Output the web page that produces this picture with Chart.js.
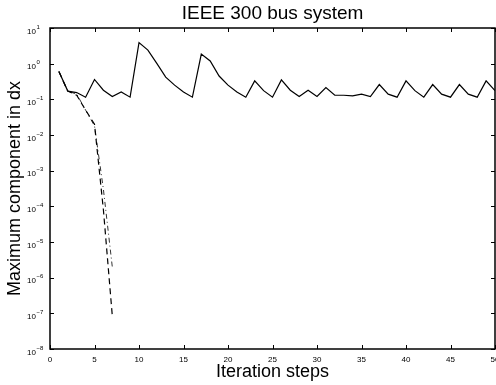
<!DOCTYPE html>
<html>
<head>
<meta charset="utf-8">
<script src="https://cdn.jsdelivr.net/npm/chart.js@4"></script>
<style>
    body { margin: 0; background: #fff; }
    canvas { display: block; }
</style>
</head>
<body>
<canvas id="chart" width="496" height="385"></canvas>
<script>
// Iteration numbers and max |dx| per iteration
const steps = [1, 2, 3, 4, 5, 6, 7, 8, 9, 10,
    11, 12, 13, 14, 15, 16, 17, 18, 19, 20,
    21, 22, 23, 24, 25, 26, 27, 28, 29, 30,
    31, 32, 33, 34, 35, 36, 37, 38, 39, 40,
    41, 42, 43, 44, 45, 46, 47, 48, 49, 50];
const solidValues = [0.6, 0.17, 0.155, 0.115, 0.36, 0.18, 0.12, 0.16, 0.115, 3.9,
    2.4, 1.02, 0.42, 0.25, 0.16, 0.115, 1.86, 1.19, 0.45, 0.25,
    0.16, 0.115, 0.33, 0.175, 0.115, 0.35, 0.18, 0.12, 0.18, 0.12,
    0.215, 0.13, 0.13, 0.125, 0.14, 0.12, 0.26, 0.14, 0.115, 0.33,
    0.175, 0.115, 0.26, 0.14, 0.115, 0.26, 0.14, 0.115, 0.33, 0.175];
const dashedValues = [0.6, 0.17, 0.13, 0.05, 0.02, 8e-5, 8.5e-8];
const dashDotValues = [0.6, 0.17, 0.14, 0.05, 0.018, 3e-4, 2e-6];

// Axis ticks
const xTicks = [0, 5, 10, 15, 20, 25, 30, 35, 40, 45, 50];
const yExponents = [-8, -7, -6, -5, -4, -3, -2, -1, 0, 1];

function toPoints(values) {
    return values.map((v, i) => ({ x: steps[i], y: v }));
}

// Draws the MATLAB style frame, inward ticks and 10^n labels
const framePlugin = {
    id: 'frame',
    afterDraw(chart) {
        const ctx = chart.ctx;
        const area = chart.chartArea;
        const xs = chart.scales.x;
        const ys = chart.scales.y;
        const len = 4;

        ctx.save();
        ctx.strokeStyle = '#000';
        ctx.lineWidth = 1;
        ctx.beginPath();
        xTicks.forEach(t => {
            const px = Math.round(xs.getPixelForValue(t)) + 0.5;
            ctx.moveTo(px, area.bottom);
            ctx.lineTo(px, area.bottom - len);
            ctx.moveTo(px, area.top);
            ctx.lineTo(px, area.top + len);
        });
        yExponents.forEach(e => {
            const py = Math.round(ys.getPixelForValue(Math.pow(10, e))) + 0.5;
            ctx.moveTo(area.left, py);
            ctx.lineTo(area.left + len, py);
            ctx.moveTo(area.right, py);
            ctx.lineTo(area.right - len, py);
        });
        ctx.stroke();

        ctx.lineWidth = 1.5;
        ctx.strokeRect(area.left, area.top, area.right - area.left, area.bottom - area.top);

        // y tick labels: "10" plus a raised exponent
        ctx.fillStyle = '#000';
        yExponents.forEach(e => {
            const py = ys.getPixelForValue(Math.pow(10, e));
            const exp = e < 0 ? '\u2212' + Math.abs(e) : String(e);
            ctx.font = '8px "Liberation Sans", Arial, sans-serif';
            ctx.textAlign = 'right';
            ctx.textBaseline = 'top';
            ctx.fillText('10', 36, py - 0.5);
            ctx.font = '6px "Liberation Sans", Arial, sans-serif';
            ctx.textAlign = 'left';
            ctx.textBaseline = 'alphabetic';
            ctx.fillText(exp, 36.5, py + 0.5);
        });
        ctx.restore();
    }
};

const ctx = document.getElementById('chart').getContext('2d');
window.convergenceChart = new Chart(ctx, {
    type: 'line',
    data: {
        datasets: [
            {
                label: 'solid',
                data: toPoints(solidValues),
                borderColor: '#000',
                borderWidth: 1.2,
                pointRadius: 0,
                tension: 0
            },
            {
                label: 'dashed',
                data: toPoints(dashedValues),
                borderColor: '#000',
                borderWidth: 1.2,
                borderDash: [6, 4],
                pointRadius: 0,
                tension: 0
            },
            {
                label: 'dashdot',
                data: toPoints(dashDotValues),
                borderColor: '#333',
                borderWidth: 1,
                borderDash: [5, 3, 1, 3],
                pointRadius: 0,
                tension: 0
            }
        ]
    },
    options: {
        responsive: false,
        animation: false,
        layout: { padding: { left: 0, right: 1, top: 0, bottom: 0 } },
        scales: {
            x: {
                type: 'linear',
                min: 0,
                max: 50,
                grid: { display: false, drawTicks: false },
                border: { display: false },
                ticks: {
                    stepSize: 5,
                    padding: 6,
                    color: '#000',
                    maxRotation: 0,
                    font: { family: '"Liberation Sans", Arial, sans-serif', size: 8 }
                },
                title: {
                    display: true,
                    text: 'Iteration steps',
                    color: '#000',
                    padding: { top: 0, bottom: 2 },
                    font: { family: '"Liberation Sans", Arial, sans-serif', size: 18 }
                },
                afterFit: function(scale) {
                    scale.height = 36;
                    scale.paddingLeft = 0;
                    scale.paddingRight = 0;
                }
            },
            y: {
                type: 'logarithmic',
                min: 1e-8,
                max: 10,
                grid: { display: false, drawTicks: false },
                border: { display: false },
                ticks: { display: false },
                afterBuildTicks: function(scale) {
                    scale.ticks = yExponents.map(e => ({ value: Math.pow(10, e) }));
                },
                title: {
                    display: true,
                    text: 'Maximum component in dx',
                    color: '#000',
                    padding: { top: 4, bottom: 0 },
                    font: { family: '"Liberation Sans", Arial, sans-serif', size: 18 }
                },
                afterFit: function(scale) {
                    scale.width = 50;
                    scale.paddingTop = 0;
                    scale.paddingBottom = 0;
                }
            }
        },
        plugins: {
            legend: { display: false },
            tooltip: { enabled: false },
            title: {
                display: true,
                text: 'IEEE 300 bus system',
                color: '#000',
                fullSize: false,
                padding: { top: 2, bottom: 3.2 },
                font: { family: '"Liberation Sans", Arial, sans-serif', size: 19, weight: 'normal' }
            }
        }
    },
    plugins: [framePlugin]
});
</script>
</body>
</html>
